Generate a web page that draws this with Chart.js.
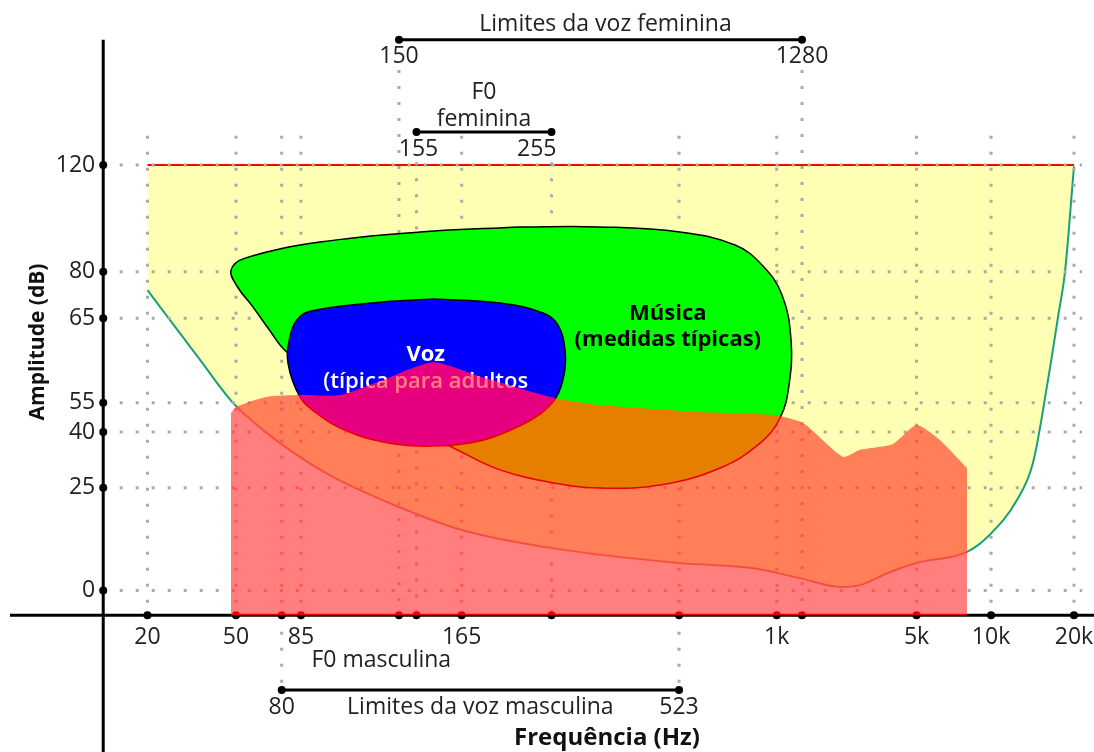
<!DOCTYPE html>
<html>
<head>
<meta charset="utf-8">
<title>Faixa auditiva</title>
<script src="https://cdn.jsdelivr.net/npm/chart.js@4.4.1/dist/chart.umd.min.js"></script>
<style>
  html, body { margin: 0; padding: 0; background: #fff; }
  canvas { display: block; }
</style>
</head>
<body>
<canvas id="chart" width="1094" height="752"></canvas>
<script>
// axis ticks
const freqTicks = [20, 50, 80, 85, 150, 155, 165, 255, 523, 1000, 1280, 5000, 10000, 20000];
const freqTickLabels = ['20', '50', '', '85', '', '', '165', '', '', '1k', '', '5k', '10k', '20k'];
const ampTicks = [0, 25, 40, 55, 65, 80, 120];

// hearing threshold (lower edge of the audible area)
const thresholdHz = [20, 34.4, 48.5, 68.8, 84.7, 102.3, 150, 165, 255, 523, 838, 1255, 2012, 2552, 3648, 5000, 8000, 9860, 12420, 14200, 16100, 17500, 18550, 19840, 20000];
const thresholdDb = [74.1, 60.1, 54.9, 39.7, 33.3, 27.9, 20.3, 14.7, 10.3, 6.7, 5.5, 3.0, 0.85, 1.3, 4.5, 6.7, 9.4, 13.5, 22.0, 31.7, 57.7, 65.4, 79.9, 115.1, 119.5];

// pain limit
const painHz = [20, 20000];
const painDb = [120, 120];

// music region outline
const musicHz = [218.9, 335, 526, 758, 907, 1053, 1150, 1127.5, 1033, 895, 686.6, 470, 335, 267.5, 198.7, 161.7, 142.4, 100.6, 81.3, 69.5, 59.6, 50.5, 47.5, 54.9, 94.9, 155.8, 218.9];
const musicDb = [96.8, 96.8, 94.9, 90.0, 82.5, 72.5, 62.4, 57.1, 47.2, 37.0, 30.3, 25.7, 24.9, 26.0, 29.8, 36.5, 46.1, 57.7, 61.0, 63.85, 68.6, 75.4, 80.6, 85.1, 91.1, 94.9, 96.8];

// adult voice region outline
const voiceHz = [158.6, 198.7, 244.7, 264.5, 275.2, 273.6, 261.5, 241.2, 213.6, 180.3, 158.6, 136.7, 106.6, 92.2, 84.7, 81.6, 82.1, 83.9, 89.6, 134.4, 158.6];
const voiceDb = [71.2, 69.9, 66.7, 64.2, 61.2, 58.3, 55.6, 49.2, 42.0, 37.6, 36.2, 37.3, 42.0, 50.2, 55.7, 59.7, 62.8, 64.8, 67.3, 70.2, 71.2];

// speech / music spectrum
const spectrumHz = [47.5, 50, 68.8, 84.7, 106.6, 136.7, 158.6, 182.9, 258, 335, 601, 975.6, 1295, 2085, 2552, 3780, 5000, 6222, 8000];
const spectrumDb = [49.7, 52.8, 55.7, 55.9, 55.9, 57.7, 59.8, 58.0, 55.6, 53.8, 50.2, 48.7, 44.6, 33.3, 35.2, 36.8, 43.6, 37.8, 30.3];

// voice ranges (Hz)
const femRange = [150, 1280];
const femF0 = [155, 255];
const mascF0 = [85, 165];
const mascRange = [80, 523];

const pts = (xs, ys) => xs.map((x, i) => ({ x, y: ys[i] }));

// piecewise scale: each tick sits at a fixed fraction of the plot
const warpStops = {
  x: { log: true, v: freqTicks, t: [0.1348, 0.2157, 0.2575, 0.2751, 0.3647, 0.3807, 0.4220, 0.5041, 0.6207, 0.7100, 0.7331, 0.8378, 0.9059, 0.9817] },
  y: { log: false, v: ampTicks, t: [0.7852, 0.6485, 0.5745, 0.5355, 0.4233, 0.3613, 0.2194] }
};

class WarpScale extends Chart.Scale {
  static id = 'warp';
  static defaults = {};
  determineDataLimits() {
    const s = warpStops[this.id];
    this.min = s.v[0];
    this.max = s.v[s.v.length - 1];
  }
  buildTicks() {
    return warpStops[this.id].v.map(value => ({ value }));
  }
  getLabelForValue(v) { return String(v); }
  fraction(v) {
    const s = warpStops[this.id];
    const f = s.log ? Math.log : (a => a);
    let i = 1;
    while (i < s.v.length - 1 && v > s.v[i]) i++;
    const k = (f(v) - f(s.v[i - 1])) / (f(s.v[i]) - f(s.v[i - 1]));
    return s.t[i - 1] + k * (s.t[i] - s.t[i - 1]);
  }
  getPixelForValue(v) {
    const t = this.fraction(v);
    return this.isHorizontal() ? this.left + t * this.width : this.top + t * this.height;
  }
  getValueForPixel(p) {
    const s = warpStops[this.id];
    const t = this.isHorizontal() ? (p - this.left) / this.width : (p - this.top) / this.height;
    let i = 1;
    const asc = s.t[1] > s.t[0];
    while (i < s.t.length - 1 && (asc ? t > s.t[i] : t < s.t[i])) i++;
    const k = (t - s.t[i - 1]) / (s.t[i] - s.t[i - 1]);
    if (s.log) return s.v[i - 1] * Math.pow(s.v[i] / s.v[i - 1], k);
    return s.v[i - 1] + k * (s.v[i] - s.v[i - 1]);
  }
}
Chart.register(WarpScale);

const FONT = '"Open Sans", "DejaVu Sans", sans-serif';
const AXIS_HZ = 12.65;   // where the amplitude axis crosses
const AXIS_DB = -6;      // where the frequency axis crosses

function dotted(ctx, x1, y1, x2, y2) {
  ctx.beginPath();
  ctx.moveTo(x1, y1);
  ctx.lineTo(x2, y2);
  ctx.stroke();
}

function dot(ctx, x, y, r) {
  ctx.beginPath();
  ctx.arc(x, y, r, 0, Math.PI * 2);
  ctx.fill();
}

function drawGridAndAxes(chart) {
  const { ctx } = chart;
  const xs = chart.scales.x, ys = chart.scales.y;
  const X = v => xs.getPixelForValue(v), Y = v => ys.getPixelForValue(v);
  const ax = X(AXIS_HZ), ay = Y(AXIS_DB);

  ctx.save();
  ctx.strokeStyle = '#aaaaaa';
  ctx.lineWidth = 3;
  ctx.setLineDash([3, 13]);
  ampTicks.forEach(v => dotted(ctx, X(15), Y(v), X(21400), Y(v)));
  freqTicks.forEach(f => {
    let top = 131, bottom = AXIS_DB;
    if (f === femRange[0] || f === femRange[1]) top = 155.6;
    if (f === femF0[0] || f === femF0[1]) top = 121;
    if (f === mascRange[0] || f === mascRange[1]) bottom = -24.2;
    dotted(ctx, X(f), Y(top), X(f), Y(bottom));
  });
  ctx.setLineDash([]);

  // axes
  ctx.strokeStyle = '#000';
  ctx.lineWidth = 3;
  dotted(ctx, 10, ay, chart.width, ay);
  dotted(ctx, ax, Y(166.9), ax, chart.height);

  ctx.fillStyle = '#000';
  freqTicks.forEach(f => dot(ctx, X(f), ay, 4));
  ampTicks.forEach(v => dot(ctx, ax, Y(v), 4));

  ctx.fillStyle = '#222';
  ctx.font = '23px ' + FONT;
  ctx.textBaseline = 'middle';
  ctx.textAlign = 'center';
  freqTicks.forEach((f, i) => {
    if (freqTickLabels[i]) ctx.fillText(freqTickLabels[i], X(f), ay + 22);
  });
  ctx.textAlign = 'right';
  ampTicks.forEach(v => ctx.fillText(String(v), ax - 8, Y(v)));
  ctx.restore();
}

function rangeBar(ctx, x1, x2, y) {
  ctx.strokeStyle = '#000';
  ctx.lineWidth = 3;
  dotted(ctx, x1, y, x2, y);
  ctx.fillStyle = '#000';
  dot(ctx, x1, y, 4);
  dot(ctx, x2, y, 4);
}

function drawAnnotations(chart) {
  const { ctx } = chart;
  const xs = chart.scales.x, ys = chart.scales.y;
  const X = v => xs.getPixelForValue(v), Y = v => ys.getPixelForValue(v);
  const numFont = '23px ' + FONT, textFont = '23px ' + FONT;
  ctx.save();
  ctx.textBaseline = 'middle';

  // female voice limits
  let y = Y(166.9), a = X(femRange[0]), b = X(femRange[1]);
  rangeBar(ctx, a, b, y);
  ctx.fillStyle = '#222';
  ctx.textAlign = 'center';
  ctx.font = textFont;
  ctx.fillText('Limites da voz feminina', (a + b) / 2 + 5, y - 15);
  ctx.font = numFont;
  ctx.fillText(String(femRange[0]), a, y + 17);
  ctx.fillText(String(femRange[1]), b, y + 17);

  // female F0
  y = Y(132.4); a = X(femF0[0]); b = X(femF0[1]);
  rangeBar(ctx, a, b, y);
  ctx.fillStyle = '#222';
  ctx.textAlign = 'center';
  ctx.font = textFont;
  ctx.fillText('F0', (a + b) / 2, y - 39);
  ctx.fillText('feminina', (a + b) / 2, y - 12);
  ctx.font = numFont;
  ctx.fillText(String(femF0[0]), a + 2, y + 18);
  ctx.textAlign = 'right';
  ctx.fillText(String(femF0[1]), b + 5, y + 18);

  // male F0
  ctx.textAlign = 'center';
  ctx.font = textFont;
  ctx.fillText('F0 masculina', (X(mascF0[0]) + X(mascF0[1])) / 2, Y(-16.9));

  // male voice limits
  y = Y(-24.2); a = X(mascRange[0]); b = X(mascRange[1]);
  rangeBar(ctx, a, b, y);
  ctx.fillStyle = '#222';
  ctx.textAlign = 'center';
  ctx.font = numFont;
  ctx.fillText(String(mascRange[0]), a, y + 17);
  ctx.fillText(String(mascRange[1]), b, y + 17);
  ctx.font = textFont;
  ctx.fillText('Limites da voz masculina', (a + b) / 2, y + 17);

  // axis titles
  ctx.fillStyle = '#111';
  ctx.font = 'bold 24px ' + FONT;
  ctx.fillText('Frequência (Hz)', 607, 738);
  ctx.font = 'bold 21px ' + FONT;
  ctx.translate(38, 342);
  ctx.rotate(-Math.PI / 2);
  ctx.fillText('Amplitude (dB)', 0, 0);
  ctx.restore();
}

function drawRegionLabels(chart) {
  const { ctx } = chart;
  const xs = chart.scales.x, ys = chart.scales.y;
  ctx.save();
  ctx.textAlign = 'center';
  ctx.textBaseline = 'middle';
  let x = xs.getPixelForValue(491), y = ys.getPixelForValue(64);
  ctx.fillStyle = '#000';
  ctx.font = 'bold 22px ' + FONT;
  ctx.fillText('Música', x, y - 13);
  ctx.fillText('(medidas típicas)', x, y + 13);
  x = xs.getPixelForValue(157); y = ys.getPixelForValue(59);
  ctx.fillStyle = '#fff';
  ctx.fillText('Voz', x, y - 14);
  ctx.font = '600 22px ' + FONT;
  ctx.fillText('(típica para adultos', x, y + 13);
  ctx.restore();
}

const layers = {
  id: 'layers',
  beforeDraw(chart) {
    const ctx = chart.ctx;
    ctx.save();
    ctx.fillStyle = '#ffffff';
    ctx.fillRect(0, 0, chart.width, chart.height);
    ctx.restore();
  },
  afterDatasetDraw(chart, args) {
    const ctx = chart.ctx;
    if (args.index === 1) drawGridAndAxes(chart);
    if (args.index === 3) drawRegionLabels(chart);
    if (args.index === 4) ctx.globalCompositeOperation = 'lighter';
    if (args.index === 5) ctx.globalCompositeOperation = 'source-over';
  },
  afterDraw(chart) {
    drawAnnotations(chart);
  }
};

new Chart(document.getElementById('chart'), {
  type: 'line',
  data: {
    datasets: [
      {
        label: 'Limiar de audição',
        data: pts(thresholdHz, thresholdDb),
        borderColor: '#17a07c',
        borderWidth: 2,
        backgroundColor: '#ffffb3',
        fill: 1,
        cubicInterpolationMode: 'monotone',
        pointRadius: 0,
        order: 7
      },
      {
        label: 'Limiar de dor',
        data: pts(painHz, painDb),
        borderColor: '#ff0000',
        borderWidth: 2,
        fill: false,
        pointRadius: 0,
        order: 6
      },
      {
        label: 'Música',
        data: pts(musicHz, musicDb),
        borderColor: '#000',
        borderWidth: 1.5,
        backgroundColor: '#00ff00',
        fill: 'shape',
        tension: 0.4,
        pointRadius: 0,
        order: 5
      },
      {
        label: 'Voz',
        data: pts(voiceHz, voiceDb),
        borderColor: '#000',
        borderWidth: 1.5,
        backgroundColor: '#0000ff',
        fill: 'shape',
        tension: 0.4,
        pointRadius: 0,
        order: 4
      },
      {
        label: 'Espectro',
        data: pts(spectrumHz, spectrumDb),
        borderColor: 'rgba(0,0,0,0)',
        borderWidth: 0,
        backgroundColor: 'rgba(255,0,0,0.5)',
        fill: { value: AXIS_DB },
        tension: 0.2,
        pointRadius: 0,
        order: 3
      },
      {
        label: 'Espectro (realce)',
        data: pts(spectrumHz, spectrumDb),
        borderColor: 'rgba(0,0,0,0)',
        borderWidth: 0,
        backgroundColor: 'rgb(102,0,0)',
        fill: { value: AXIS_DB },
        tension: 0.2,
        pointRadius: 0,
        order: 2
      }
    ]
  },
  options: {
    responsive: false,
    animation: false,
    events: [],
    layout: { padding: 0 },
    scales: {
      x: { type: 'warp', position: 'bottom', display: false },
      y: { type: 'warp', position: 'left', display: false }
    },
    plugins: {
      legend: { display: false },
      tooltip: { enabled: false }
    }
  },
  plugins: [layers]
});
</script>
</body>
</html>
